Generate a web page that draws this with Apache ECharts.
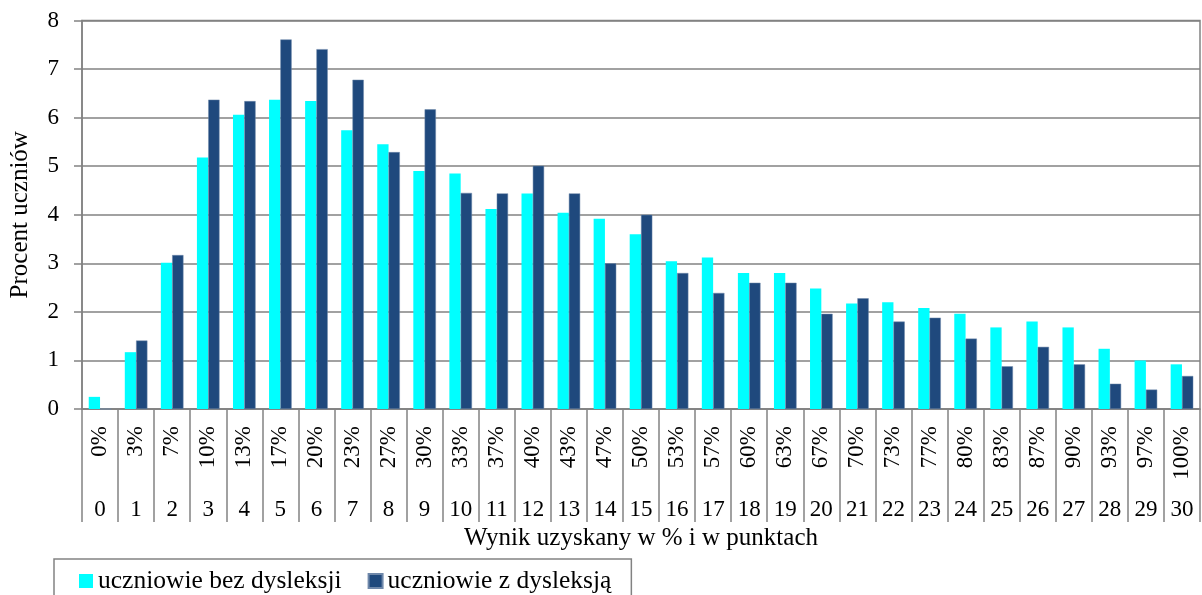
<!DOCTYPE html>
<html>
<head>
<meta charset="utf-8">
<script src="https://cdn.jsdelivr.net/npm/echarts@6/dist/echarts.min.js"></script>
<style>
html,body{margin:0;padding:0;background:#fff;}
#chart{width:1202px;height:595px;}
</style>
</head>
<body>
<div id="chart"></div>
<script>
const percentLabels = ['0%','3%','7%','10%','13%','17%','20%','23%','27%','30%','33%','37%','40%','43%','47%','50%','53%','57%','60%','63%','67%','70%','73%','77%','80%','83%','87%','90%','93%','97%','100%'];
const pointLabels = ['0','1','2','3','4','5','6','7','8','9','10','11','12','13','14','15','16','17','18','19','20','21','22','23','24','25','26','27','28','29','30'];
const bezDysleksji = [0.25,1.17,3.01,5.18,6.06,6.37,6.34,5.74,5.45,4.90,4.85,4.12,4.44,4.04,3.92,3.60,3.04,3.12,2.80,2.80,2.48,2.17,2.20,2.08,1.96,1.68,1.80,1.68,1.24,1.00,0.92];
const zDysleksja = [0,1.41,3.17,6.37,6.34,7.61,7.41,6.78,5.29,6.17,4.45,4.44,5.01,4.44,3.00,4.00,2.80,2.39,2.60,2.60,1.96,2.28,1.80,1.88,1.45,0.88,1.28,0.92,0.52,0.40,0.68];
const seriesNames = ['uczniowie bez dysleksji','uczniowie z dysleksją'];
const yTicks = {min:0, max:8, interval:1};

const FONT = 'Liberation Serif';
const GRAY = '#828282';
const chart = echarts.init(document.getElementById('chart'), null, {renderer:'canvas'});
chart.setOption({
  animation:false,
  backgroundColor:'#ffffff',
  textStyle:{fontFamily:FONT,color:'#000'},
  grid:{left:76,right:2,top:20.5,bottom:186,show:true,borderColor:GRAY,borderWidth:1.5,containLabel:false},
  legend:{
    left:54, top:559,
    padding:[9,20,10,25],
    itemWidth:14, itemHeight:14, itemGap:26,
    borderColor:GRAY, borderWidth:1.5,
    icon:'rect',
    textStyle:{fontFamily:FONT,fontSize:25.5,color:'#000'},
    data:seriesNames
  },
  xAxis:[{
    type:'category', data:percentLabels, position:'bottom', boundaryGap:true,
    axisLine:{show:true,lineStyle:{color:GRAY,width:1.5}},
    axisTick:{show:true,length:113,interval:0,lineStyle:{color:GRAY,width:1.5}},
    axisLabel:{rotate:90,interval:0,margin:17,fontFamily:FONT,fontSize:23,color:'#000'}
  },{
    type:'category', data:pointLabels, position:'bottom', offset:0, boundaryGap:true,
    axisLine:{show:false}, axisTick:{show:false},
    axisLabel:{interval:0,margin:89,fontFamily:FONT,fontSize:23,lineHeight:23,color:'#000'},
    name:'Wynik uzyskany w % i w punktach', nameLocation:'middle', nameGap:116,
    nameTextStyle:{fontFamily:FONT,fontSize:25,color:'#000',lineHeight:25}
  }],
  yAxis:{
    type:'value', min:yTicks.min, max:yTicks.max, interval:yTicks.interval,
    axisLine:{show:true,lineStyle:{color:GRAY,width:1.5}},
    axisTick:{show:true,length:8,lineStyle:{color:GRAY,width:1.5}},
    splitLine:{show:true,lineStyle:{color:GRAY,width:1.5}},
    axisLabel:{margin:23,fontFamily:FONT,fontSize:23,color:'#000'},
    name:'Procent uczniów', nameLocation:'middle', nameGap:49, nameRotate:90,
    nameTextStyle:{fontFamily:FONT,fontSize:25,color:'#000'}
  },
  series:[{
    name:seriesNames[0], type:'bar', xAxisIndex:0, data:bezDysleksji,
    barWidth:11.3, barGap:'0%',
    itemStyle:{color:'#00FFFF'}
  },{
    name:seriesNames[1], type:'bar', xAxisIndex:0, data:zDysleksja,
    barWidth:11.3, barGap:'0%',
    itemStyle:{color:'#1F497D',borderColor:'#6F88AA',borderWidth:0.5}
  }]
});
</script>
</body>
</html>
